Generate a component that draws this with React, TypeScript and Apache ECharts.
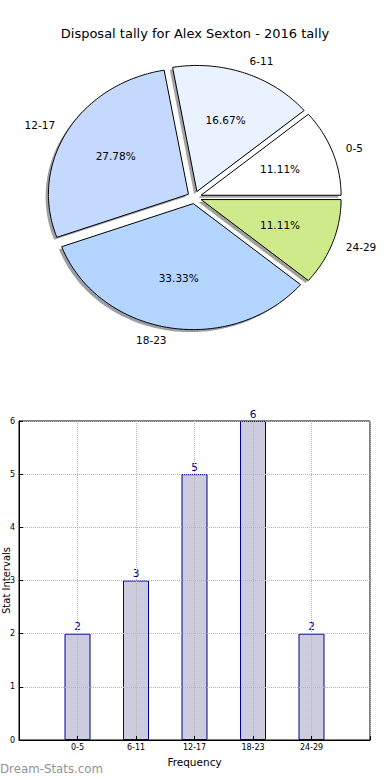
import React, { useEffect, useRef } from "react";
import * as echarts from "echarts";

// ---- data ----
const titleText = "Disposal tally for Alex Sexton - 2016 tally";
const categories = ["0-5", "6-11", "12-17", "18-23", "24-29"];
const tallies = [2, 3, 5, 6, 2];
const sliceColors = ["#ffffff", "#eaf2ff", "#c5d9ff", "#b4d5ff", "#cfea8b"];
const yTicks = [0, 1, 2, 3, 4, 5, 6];
const xAxisName = "Frequency";
const yAxisName = "Stat Intervals";
const watermark = "Dream-Stats.com";

// ---- layout (not data) ----
const CX = 194.5;
const CY = 197.4;
const RX = 140;
const RY = 126;
const EXPLODE = 0.05;
const LABEL_DIST = 1.1;
const PCT_DIST = 0.6;
const SHADOW_DX = -2.8;
const SHADOW_DY = 2.5;
const FONT = '"DejaVu Sans", sans-serif';

const total = tallies.reduce((a, b) => a + b, 0);
const starts: number[] = [];
{
  let acc = 0;
  tallies.forEach((v) => {
    starts.push(acc);
    acc += v;
  });
}

function darken(hex: string) {
  const n = parseInt(hex.slice(1), 16);
  const r = Math.round(((n >> 16) & 255) * 0.3);
  const g = Math.round(((n >> 8) & 255) * 0.3);
  const b = Math.round((n & 255) * 0.3);
  return `rgb(${r},${g},${b})`;
}

function geom(i: number, v: number) {
  const a0 = (starts[i] / total) * 360;
  const a1 = a0 + (v / total) * 360;
  const am = (((a0 + a1) / 2) * Math.PI) / 180;
  const ax = CX + EXPLODE * RX * Math.cos(am);
  const ay = CY - EXPLODE * RY * Math.sin(am);
  const pts: number[][] = [[ax, ay]];
  const n = Math.max(4, Math.ceil(a1 - a0));
  for (let k = 0; k <= n; k++) {
    const a = ((a0 + ((a1 - a0) * k) / n) * Math.PI) / 180;
    pts.push([ax + RX * Math.cos(a), ay - RY * Math.sin(a)]);
  }
  return { pts, am, ax, ay };
}

export default function App() {
  const ref = useRef<HTMLDivElement>(null);
  useEffect(() => {
    if (!ref.current) return;
    const chart = echarts.init(ref.current, null, { renderer: "svg" });
    const pieData = tallies.map((v, i) => [v, i]);
    const option: any = {
      animation: false,
      backgroundColor: "#ffffff",
      textStyle: { fontFamily: FONT },
      title: {
        text: titleText,
        left: "center",
        top: 22,
        textStyle: { fontFamily: FONT, fontSize: 13, fontWeight: "normal", color: "#000" },
      },
      grid: {
        left: 19,
        right: 20,
        top: 421,
        bottom: 40,
        containLabel: false,
        outerBoundsMode: "none",
        show: true,
        borderColor: "#000",
        borderWidth: 1,
        backgroundColor: "transparent",
      },
      xAxis: {
        type: "category",
        data: ["", ...categories, ""],
        boundaryGap: false,
        z: 5,
        name: xAxisName,
        nameLocation: "middle",
        nameGap: 16,
        nameMoveOverlap: false,
        nameTextStyle: { fontFamily: FONT, fontSize: 10.5, color: "#000" },
        axisLine: { lineStyle: { color: "#000", width: 1 } },
        axisTick: { show: true, inside: true, length: 4, lineStyle: { color: "#000" }, interval: 0 },
        axisLabel: { interval: 0, fontSize: 8, color: "#000", fontFamily: FONT, margin: 3 },
        splitLine: { show: true, interval: 0, lineStyle: { color: "#b4b4b4", type: "dotted", width: 1 } },
      },
      yAxis: {
        type: "value",
        min: yTicks[0],
        max: yTicks[yTicks.length - 1],
        interval: 1,
        z: 5,
        name: yAxisName,
        nameLocation: "middle",
        nameGap: 7.5,
        nameMoveOverlap: false,
        nameTextStyle: { fontFamily: FONT, fontSize: 10, color: "#000", lineHeight: 11 },
        axisLine: { show: true, lineStyle: { color: "#000", width: 1 } },
        axisTick: { show: true, inside: true, length: 4, lineStyle: { color: "#000" } },
        axisLabel: { fontSize: 8, color: "#000", fontFamily: FONT, margin: 4 },
        splitLine: { show: true, lineStyle: { color: "#b4b4b4", type: "dotted", width: 1 } },
      },
      graphic: [
        {
          type: "text",
          left: 0,
          top: 763,
          style: {
            text: watermark,
            fill: "#939393",
            font: `11.8px ${FONT}`,
          },
        },
      ],
      series: [
        {
          type: "custom",
          coordinateSystem: "none",
          z: 1,
          silent: true,
          data: pieData,
          renderItem: (params: any, api: any) => {
            const i = params.dataIndex;
            const v = api.value(0);
            const g = geom(i, v);
            return {
              type: "polygon",
              x: SHADOW_DX,
              y: SHADOW_DY,
              shape: { points: g.pts },
              style: { fill: darken(sliceColors[i]), opacity: 0.5, stroke: "none" },
            };
          },
        },
        {
          type: "custom",
          coordinateSystem: "none",
          z: 2,
          silent: true,
          data: pieData,
          renderItem: (params: any, api: any) => {
            const i = params.dataIndex;
            const v = api.value(0);
            const g = geom(i, v);
            const c = Math.cos(g.am);
            const s = Math.sin(g.am);
            const lx = g.ax + LABEL_DIST * RX * c;
            const ly = g.ay - LABEL_DIST * RY * s;
            const px = g.ax + PCT_DIST * RX * c;
            const py = g.ay - PCT_DIST * RY * s;
            const pct = ((v / total) * 100).toFixed(2) + "%";
            return {
              type: "group",
              children: [
                {
                  type: "polygon",
                  shape: { points: g.pts },
                  style: { fill: sliceColors[i], stroke: "#000", lineWidth: 1 },
                },
                {
                  type: "text",
                  x: lx,
                  y: ly,
                  style: {
                    text: categories[i],
                    fill: "#000",
                    font: `10.5px ${FONT}`,
                    align: c >= 0 ? "left" : "right",
                    verticalAlign: "middle",
                  },
                },
                {
                  type: "text",
                  x: px,
                  y: py,
                  style: {
                    text: pct,
                    fill: "#000",
                    font: `10.5px ${FONT}`,
                    align: "center",
                    verticalAlign: "middle",
                  },
                },
              ],
            };
          },
        },
        {
          type: "bar",
          z: 2,
          data: [null, ...tallies, null],
          barWidth: 26,
          itemStyle: { color: "#ccccde", borderColor: "#000088", borderWidth: 1 },
          label: {
            show: true,
            position: "top",
            distance: 2,
            color: "#000088",
            fontSize: 10.5,
            fontFamily: FONT,
          },
        },
      ],
    };
    chart.setOption(option);
    return () => chart.dispose();
  }, []);
  return (
    <div
      ref={ref}
      style={{ position: "absolute", left: 0, top: 0, width: 390, height: 780 }}
    />
  );
}
